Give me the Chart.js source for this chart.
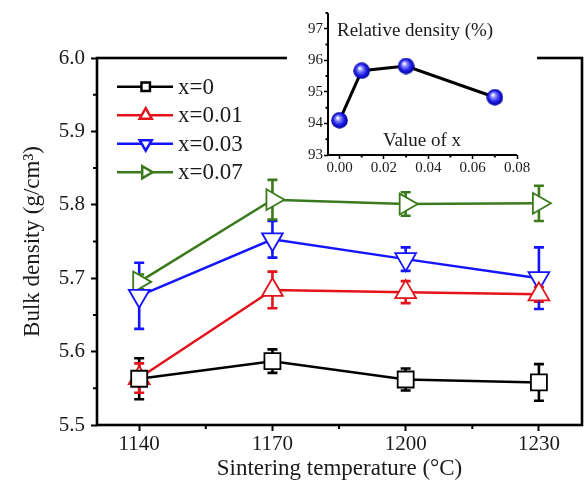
<!DOCTYPE html>
<html>
<head>
<meta charset="utf-8">
<script src="https://cdn.jsdelivr.net/npm/chart.js@4"></script>
<style>
html,body{margin:0;padding:0;background:#fff;}
#wrap{position:relative;width:586px;height:487px;}
#main{position:absolute;left:0;top:0;}
#inset{position:absolute;left:287px;top:0;background:#fff;}
</style>
</head>
<body>
<div id="wrap">
  <canvas id="main" width="586" height="487"></canvas>
  <canvas id="inset" width="250" height="180"></canvas>
</div>
<script>
// main plot: bulk density vs sintering temperature
const temps = [1140, 1170, 1200, 1230];
const seriesNames = ['x=0', 'x=0.01', 'x=0.03', 'x=0.07'];
const rho0 = [5.563, 5.587, 5.562, 5.558];
const err0 = [0.028, 0.016, 0.015, 0.025];
const rho1 = [5.564, 5.684, 5.681, 5.678];
const err1 = [0.020, 0.025, 0.015, 0.010];
const rho3 = [5.676, 5.753, 5.726, 5.700];
const err3 = [0.045, 0.025, 0.016, 0.042];
const rho7 = [5.695, 5.807, 5.801, 5.802];
const err7 = [0.010, 0.027, 0.016, 0.024];
const yTicks = [5.5, 5.6, 5.7, 5.8, 5.9, 6.0];
const yMinor = [5.55, 5.65, 5.75, 5.85, 5.95];
const xMinor = [1155, 1185, 1215];

// inset: relative density vs x
const xContent = [0, 0.01, 0.03, 0.07];
const relDensity = [94.1, 95.67, 95.82, 94.83];
const insetYTicks = [93, 94, 95, 96, 97];
const insetYMinor = [93.5, 94.5, 95.5, 96.5, 97.5];
const insetXTicks = [0, 0.02, 0.04, 0.06, 0.08];
const insetXMinor = [0.01, 0.03, 0.05, 0.07];

const serif = "'Liberation Serif','Times New Roman',serif";
const ink = '#1a1a1a';

const values = [rho0, rho1, rho3, rho7];
const errors = [err0, err1, err3, err7];
const colors = ['#000000', '#e3121b', '#1414ff', '#3a7a1c'];
const styles = ['rect', 'triangle', 'triangle', 'triangle'];
const rotations = [0, 0, 180, 90];
const radii = [11.3, 12, 12, 12];

const datasets = values.map((vals, i) => ({
  label: seriesNames[i],
  data: vals.map((v, j) => ({ x: temps[j], y: v })),
  errors: errors[i],
  borderColor: colors[i],
  borderWidth: 2.5,
  pointStyle: styles[i],
  rotation: rotations[i],
  pointRadius: radii[i],
  pointBorderWidth: 1.8,
  pointBackgroundColor: '#fff',
  pointBorderColor: colors[i],
  tension: 0
}));

const errorBars = {
  id: 'errorBars',
  beforeDatasetsDraw(chart) {
    const { ctx, scales: { x, y } } = chart;
    ctx.save();
    chart.data.datasets.forEach(ds => {
      ctx.strokeStyle = ds.borderColor;
      ctx.lineWidth = 2.6;
      ds.data.forEach((p, j) => {
        const px = x.getPixelForValue(p.x);
        const t = y.getPixelForValue(p.y + ds.errors[j]);
        const b = y.getPixelForValue(p.y - ds.errors[j]);
        ctx.beginPath();
        ctx.moveTo(px, t); ctx.lineTo(px, b);
        ctx.moveTo(px - 5, t); ctx.lineTo(px + 5, t);
        ctx.moveTo(px - 5, b); ctx.lineTo(px + 5, b);
        ctx.stroke();
      });
    });
    ctx.restore();
  }
};

const frame = {
  id: 'frame',
  afterDraw(chart) {
    const { ctx, chartArea: a, scales: { x, y } } = chart;
    ctx.save();
    ctx.strokeStyle = '#000';
    ctx.lineWidth = 2.6;
    ctx.strokeRect(a.left, a.top, a.right - a.left, a.bottom - a.top);
    ctx.lineWidth = 2;
    ctx.beginPath();
    yMinor.forEach(v => { const py = y.getPixelForValue(v); ctx.moveTo(a.left, py); ctx.lineTo(a.left - 4, py); });
    xMinor.forEach(v => { const px = x.getPixelForValue(v); ctx.moveTo(px, a.bottom); ctx.lineTo(px, a.bottom + 4); });
    ctx.stroke();
    ctx.restore();
  }
};

const legendBox = {
  id: 'legendBox',
  afterDraw(chart) {
    const { ctx } = chart;
    ctx.save();
    chart.data.datasets.forEach((ds, i) => {
      const yy = 86.7 + i * 28.5;
      ctx.strokeStyle = ds.borderColor;
      ctx.lineWidth = 2.5;
      ctx.beginPath(); ctx.moveTo(117, yy); ctx.lineTo(173, yy); ctx.stroke();
      ctx.fillStyle = '#fff';
      Chart.helpers.drawPoint(ctx, {
        pointStyle: ds.pointStyle, rotation: ds.rotation,
        radius: i === 0 ? 6 : 7, borderWidth: 1.5
      }, 145.7, yy);
      ctx.fillStyle = ink;
      ctx.font = '23px ' + serif;
      ctx.textBaseline = 'middle';
      ctx.fillText(ds.label, 178, yy + 1);
    });
    ctx.restore();
  }
};

new Chart(document.getElementById('main'), {
  type: 'line',
  data: { datasets },
  options: {
    responsive: false,
    animation: false,
    layout: { autoPadding: false, padding: { top: 58, right: 4, left: 0, bottom: 0 } },
    plugins: { legend: { display: false }, tooltip: { enabled: false } },
    scales: {
      x: {
        type: 'linear', min: 1130.5, max: 1239.7,
        afterBuildTicks: s => { s.ticks = temps.map(v => ({ value: v })); },
        afterFit: s => { s.height = 62; s.paddingLeft = 0; s.paddingRight = 0; },
        border: { display: false },
        grid: { drawOnChartArea: false, drawTicks: true, tickLength: 6, tickWidth: 2, tickColor: '#000' },
        ticks: { font: { family: serif, size: 21 }, color: ink, padding: 1, callback: v => String(v) },
        title: { display: true, text: 'Sintering temperature (°C)', font: { family: serif, size: 23 }, color: ink, padding: { top: 0, bottom: 4 } }
      },
      y: {
        min: 5.5, max: 6.0,
        afterBuildTicks: s => { s.ticks = yTicks.map(v => ({ value: v })); },
        afterFit: s => { s.width = 97; s.paddingTop = 0; s.paddingBottom = 0; },
        border: { display: false },
        grid: { drawOnChartArea: false, drawTicks: true, tickLength: 6, tickWidth: 2, tickColor: '#000' },
        ticks: { font: { family: serif, size: 21 }, color: ink, padding: 6, callback: v => v.toFixed(1) },
        title: { display: true, text: 'Bulk density (g/cm³)', font: { family: serif, size: 23 }, color: ink, padding: { top: 19, bottom: 0 } }
      }
    }
  },
  plugins: [errorBars, frame, legendBox]
});

// shaded blue ball used as the inset marker
const ball = document.createElement('canvas');
ball.width = ball.height = 17;
const bg = ball.getContext('2d');
const grad = bg.createRadialGradient(6.5, 6, 0.5, 8.5, 8.5, 8.5);
grad.addColorStop(0, '#ffffff');
grad.addColorStop(0.25, '#8c8cff');
grad.addColorStop(0.65, '#1a1ae6');
grad.addColorStop(1, '#00008c');
bg.fillStyle = grad;
bg.beginPath(); bg.arc(8.5, 8.5, 8.3, 0, Math.PI * 2); bg.fill();

const insetFrame = {
  id: 'insetFrame',
  afterDraw(chart) {
    const { ctx, chartArea: a, scales: { x, y } } = chart;
    ctx.save();
    ctx.strokeStyle = '#000';
    ctx.lineWidth = 2;
    ctx.beginPath();
    ctx.moveTo(a.left, a.top); ctx.lineTo(a.left, a.bottom); ctx.lineTo(a.right, a.bottom);
    insetYMinor.forEach(v => { const py = y.getPixelForValue(v); ctx.moveTo(a.left, py); ctx.lineTo(a.left - 2.5, py); });
    insetXMinor.forEach(v => { const px = x.getPixelForValue(v); ctx.moveTo(px, a.bottom); ctx.lineTo(px, a.bottom + 2.5); });
    ctx.stroke();
    ctx.fillStyle = ink;
    ctx.font = '19px ' + serif;
    ctx.textBaseline = 'middle';
    ctx.textAlign = 'left';
    ctx.fillText('Relative density (%)', 50, 31);
    ctx.textAlign = 'center';
    ctx.fillText('Value of x', 135, 141);
    ctx.restore();
  }
};

new Chart(document.getElementById('inset'), {
  type: 'line',
  data: {
    datasets: [{
      data: xContent.map((v, i) => ({ x: v, y: relDensity[i] })),
      borderColor: '#000', borderWidth: 3,
      pointStyle: ball, pointRadius: 8, tension: 0
    }]
  },
  options: {
    responsive: false,
    animation: false,
    layout: { autoPadding: false, padding: { top: 13, right: 20, left: 0, bottom: 0 } },
    plugins: { legend: { display: false }, tooltip: { enabled: false } },
    scales: {
      x: {
        type: 'linear', min: -0.0052, max: 0.08,
        afterBuildTicks: s => { s.ticks = insetXTicks.map(v => ({ value: v })); },
        afterFit: s => { s.height = 25; s.paddingLeft = 0; s.paddingRight = 0; },
        border: { display: false },
        grid: { drawOnChartArea: false, drawTicks: true, tickLength: 4, tickWidth: 1.5, tickColor: '#000' },
        ticks: { font: { family: serif, size: 15 }, color: ink, padding: 0, callback: v => v.toFixed(2) }
      },
      y: {
        min: 93, max: 97.5,
        afterBuildTicks: s => { s.ticks = insetYTicks.map(v => ({ value: v })); },
        afterFit: s => { s.width = 41; s.paddingTop = 0; s.paddingBottom = 0; },
        border: { display: false },
        grid: { drawOnChartArea: false, drawTicks: true, tickLength: 4, tickWidth: 1.5, tickColor: '#000' },
        ticks: { font: { family: serif, size: 15 }, color: ink, padding: 1, callback: v => String(v) }
      }
    }
  },
  plugins: [insetFrame]
});
</script>
</body>
</html>
